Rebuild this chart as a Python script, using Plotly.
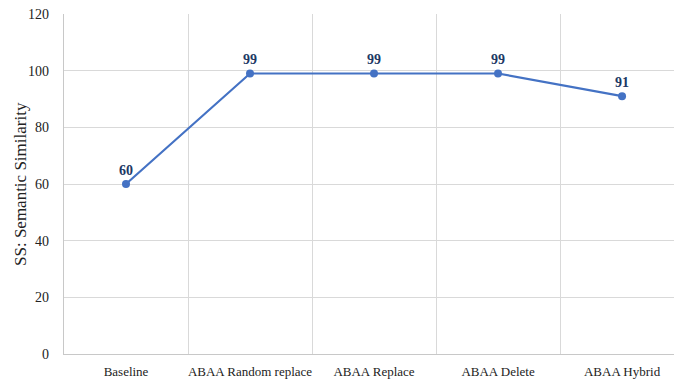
import plotly.graph_objects as go

categories = ["Baseline", "ABAA Random replace", "ABAA Replace", "ABAA Delete", "ABAA Hybrid"]
values = [60, 99, 99, 99, 91]
y_ticks = [0, 20, 40, 60, 80, 100, 120]
y_title = "SS: Semantic Similarity"

serif = "Liberation Serif, Times New Roman, serif"

fig = go.Figure()
fig.add_trace(go.Scatter(
    x=categories, y=values,
    mode="lines+markers+text",
    line=dict(color="#4472C4", width=2.2),
    marker=dict(color="#4472C4", size=8),
    text=[str(v) for v in values],
    textposition="top center",
    textfont=dict(family=serif, size=14, color="#203864", weight="bold"),
    cliponaxis=False,
    showlegend=False,
))

fig.update_layout(
    width=674, height=381,
    margin=dict(l=64, r=0, t=14, b=27),
    paper_bgcolor="white", plot_bgcolor="white",
    font=dict(family=serif, color="#222222"),
    xaxis=dict(
        type="category",
        range=[-0.5, 4.419],
        tickson="boundaries",
        tickangle=0,
        automargin=False,
        showgrid=True, gridcolor="#d9d9d9", gridwidth=1.3,
        showline=True, linecolor="#c8c8c8", linewidth=1.3,
        ticks="", tickfont=dict(family=serif, size=13, color="#222222"),
        ticklabelstandoff=5,
        zeroline=False,
    ),
    yaxis=dict(
        range=[0, 120],
        tickvals=y_ticks,
        automargin=False,
        showgrid=True, gridcolor="#d9d9d9", gridwidth=1.3,
        showline=True, linecolor="#c8c8c8", linewidth=1.3,
        ticks="", tickfont=dict(family=serif, size=14, color="#222222"),
        ticklabelstandoff=11,
        zeroline=False,
    ),
    annotations=[dict(
        text=y_title, textangle=-90,
        xref="paper", yref="paper", x=-44 / 610, y=0.5,
        xanchor="center", yanchor="middle", showarrow=False,
        font=dict(family=serif, size=17, color="#222222"),
    )],
)

fig.write_html("out.html")
